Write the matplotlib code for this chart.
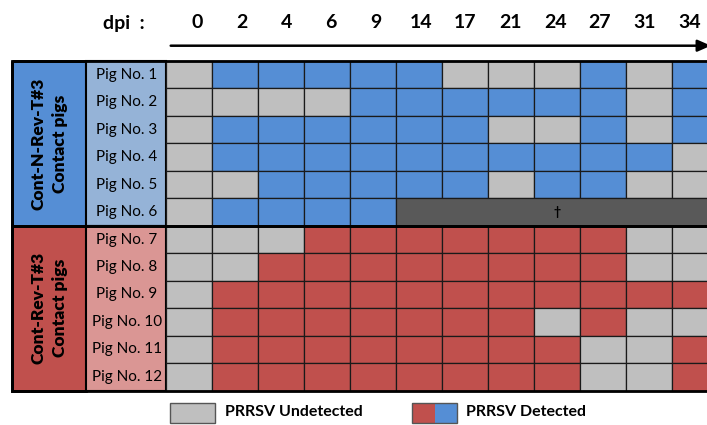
import matplotlib
matplotlib.use("Agg")
import matplotlib.pyplot as plt
from matplotlib.patches import Rectangle

plt.rcParams['font.family'] = ['Lato', 'DejaVu Sans']

# ---------------- data ----------------
dpi_labels = ["0", "2", "4", "6", "9", "14", "17", "21", "24", "27", "31", "34"]
pig_labels = [f"Pig No. {i}" for i in range(1, 13)]
group_names = ["Cont-N-Rev-T#3\nContact pigs", "Cont-Rev-T#3\nContact pigs"]
# 1 = PRRSV detected, 0 = undetected, -1 = dead
group1_status = [
    [0, 1, 1, 1, 1, 1, 0, 0, 0, 1, 0, 1],
    [0, 0, 0, 0, 1, 1, 1, 1, 1, 1, 0, 1],
    [0, 1, 1, 1, 1, 1, 1, 0, 0, 1, 0, 1],
    [0, 1, 1, 1, 1, 1, 1, 1, 1, 1, 1, 0],
    [0, 0, 1, 1, 1, 1, 1, 0, 1, 1, 0, 0],
    [0, 1, 1, 1, 1, -1, -1, -1, -1, -1, -1, -1],
]
group2_status = [
    [0, 0, 0, 1, 1, 1, 1, 1, 1, 1, 0, 0],
    [0, 0, 1, 1, 1, 1, 1, 1, 1, 1, 0, 0],
    [0, 1, 1, 1, 1, 1, 1, 1, 1, 1, 1, 1],
    [0, 1, 1, 1, 1, 1, 1, 1, 0, 1, 0, 0],
    [0, 1, 1, 1, 1, 1, 1, 1, 1, 0, 0, 1],
    [0, 1, 1, 1, 1, 1, 1, 1, 1, 0, 0, 1],
]
legend_labels = ["PRRSV Undetected", "PRRSV Detected"]

# ---------------- style ----------------
GREY = "#BFBFBF"
DEAD = "#595959"
group_detect = ["#558ED5", "#C0504D"]
group_light = ["#95B3D7", "#DA9694"]
EDGE = "#1a1a1a"

W, H = 707, 425
CW, RH = 46.0, 27.47
X0, Y0 = 166.0, 61.0


def px(x):
    return (x - X0) / CW


def py(y):
    return (y - Y0) / RH


fig = plt.figure(figsize=(W / 100, H / 100), dpi=100)
ax = fig.add_axes([0, 0, 1, 1])
ax.axis("off")
ax.set_xlim(px(0), px(W))
ax.set_ylim(py(H), py(0))

ncols = len(dpi_labels)
gx0, gx1 = px(12), px(86)

for gi, status in enumerate([group1_status, group2_status]):
    r0 = gi * len(status)
    nrow = len(status)
    # group label column
    ax.add_patch(Rectangle((gx0, r0), gx1 - gx0, nrow, fc=group_detect[gi],
                           ec="black", lw=2, zorder=2))
    ax.text((gx0 + gx1) / 2, r0 + nrow / 2, group_names[gi], rotation=90,
            ha="center", va="center", fontsize=12.5, fontweight="heavy",
            linespacing=1.45, zorder=5)
    # pig label column
    ax.add_patch(Rectangle((gx1, r0), 0 - gx1, nrow, fc=group_light[gi],
                           ec="black", lw=1.5, zorder=2))
    for r in range(nrow):
        ax.text((gx1 + 0) / 2 + 0.02, r0 + r + 0.5, pig_labels[r0 + r],
                ha="center", va="center", fontsize=11, zorder=5)
        row = status[r]
        for c, v in enumerate(row):
            if v < 0:
                continue
            fc = group_detect[gi] if v == 1 else GREY
            ax.add_patch(Rectangle((c, r0 + r), 1, 1, fc=fc, ec=EDGE,
                                   lw=0.9, zorder=3))
        dead = [c for c, v in enumerate(row) if v < 0]
        if dead:
            c0 = dead[0]
            ax.add_patch(Rectangle((c0, r0 + r), ncols - c0, 1, fc=DEAD,
                                   ec=EDGE, lw=0.9, zorder=3))
            ax.text((c0 + ncols) / 2, r0 + r + 0.5, "\u2020", ha="center",
                    va="center", fontsize=9, fontweight="bold", zorder=5)
    # thick outline of group
    ax.add_patch(Rectangle((gx0, r0), ncols - gx0, nrow, fc="none",
                           ec="black", lw=2, zorder=4))

# header
hy = py(23)
ax.text(px(124), hy, "dpi  :", ha="center", va="center", fontsize=14,
        fontweight="bold")
for i, lab in enumerate(dpi_labels):
    ax.text(px(196.7 + 44.8 * i), hy, lab, ha="center", va="center",
            fontsize=14, fontweight="bold")
ax.annotate("", xy=(px(711), py(45.7)), xytext=(px(170.7), py(45.7)),
            annotation_clip=False,
            arrowprops=dict(arrowstyle="-|>,head_length=0.8,head_width=0.35",
                            color="black", lw=1.8, shrinkA=0, shrinkB=0))

# legend
ly0, ly1 = py(402.5), py(422.5)
ax.add_patch(Rectangle((px(170), ly0), px(215) - px(170), ly1 - ly0,
                       fc=GREY, ec="#555555", lw=1.0))
ax.text(px(225), py(412.5), legend_labels[0], ha="left", va="center",
        fontsize=11.5, fontweight="bold")
ax.add_patch(Rectangle((px(412), ly0), px(435) - px(412), ly1 - ly0,
                       fc=group_detect[1], ec="none", lw=0))
ax.add_patch(Rectangle((px(435), ly0), px(457) - px(435), ly1 - ly0,
                       fc=group_detect[0], ec="none", lw=0))
ax.add_patch(Rectangle((px(412), ly0), px(457) - px(412), ly1 - ly0,
                       fc="none", ec="#555555", lw=1.0))
ax.text(px(466), py(412.5), legend_labels[1], ha="left", va="center",
        fontsize=11.5, fontweight="bold")

fig.savefig("out.png", dpi=100)
